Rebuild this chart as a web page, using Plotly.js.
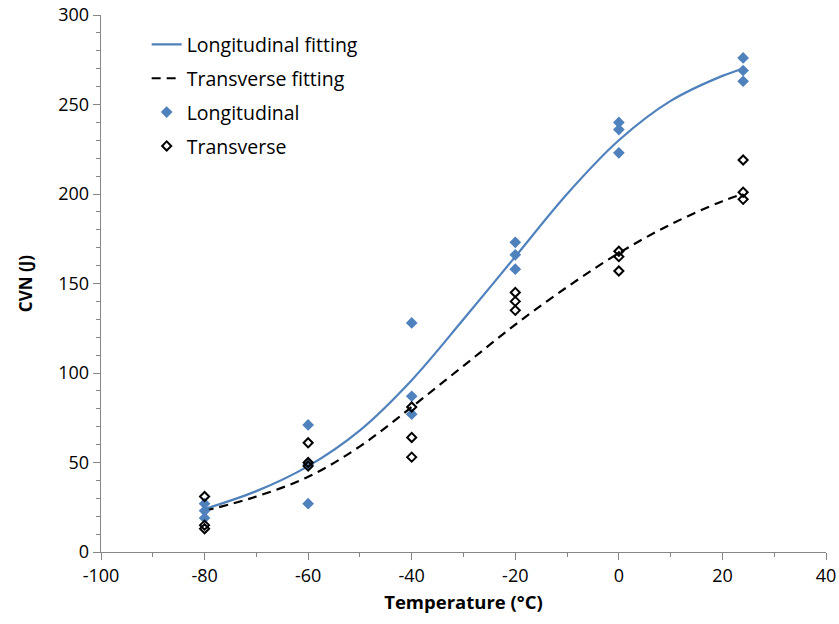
<!DOCTYPE html>
<html>
<head>
<meta charset="utf-8">
<script src="https://cdn.plot.ly/plotly-3.0.1.min.js"></script>
<style>html,body{margin:0;padding:0;background:#fff;}#chart{width:839px;height:624px;}</style>
</head>
<body>
<div id="chart"></div>
<script>
// Measured data
var longT = [-80,-80,-80,-60,-60,-60,-40,-40,-40,-20,-20,-20,0,0,0,24,24,24];
var longCVN = [27,23,19,71,49,27,128,87,77,173,166,158,240,236,223,276,269,263];
var transT = [-80,-80,-80,-60,-60,-60,-40,-40,-40,-20,-20,-20,0,0,0,24,24,24];
var transCVN = [31,15,13,61,50,48,81,64,53,145,140,135,168,165,157,219,201,197];
// Fitted curves
var fitT = [-80,-70,-60,-50,-40,-30,-20,-10,0,10,20,24];
var longFit = [24,34,48,68,96,130,165,200,230,252,266,270];
var transFit = [23,31,42,59,81,104,127,148,167,183,196,200];
// Tick labels
var xTickVals = [-100,-80,-60,-40,-20,0,20,40];
var xTickText = ['-100','-80','-60','-40','-20','0','20','40'];

var blue = '#4F81BD';
var axisGray = '#868686';
var font = 'Open Sans, sans-serif';
var traces = [
  {x: fitT, y: longFit, mode: 'lines', line: {shape: 'spline', smoothing: 1, color: blue, width: 2.2}, name: 'Longitudinal fitting', legendgroup: 'a'},
  {x: fitT, y: transFit, mode: 'lines', line: {shape: 'spline', smoothing: 1, color: '#000', width: 2.2, dash: '9px,6px'}, name: 'Transverse fitting', legendgroup: 'b'},
  {x: longT, y: longCVN, mode: 'markers', marker: {symbol: 'diamond', color: blue, size: 9}, name: 'Longitudinal', legendgroup: 'c'},
  {x: transT, y: transCVN, mode: 'markers', marker: {symbol: 'diamond-open', color: '#000', size: 7, line: {width: 2, color: '#000'}}, name: 'Transverse', legendgroup: 'd'}
];
var layout = {
  width: 839, height: 624,
  margin: {l: 101, r: 13, t: 15, b: 72},
  paper_bgcolor: '#fff', plot_bgcolor: '#fff',
  font: {family: font, size: 18, color: '#000'},
  showlegend: true,
  legend: {x: 0.063, y: 0.981, xanchor: 'left', yanchor: 'top', bgcolor: 'rgba(0,0,0,0)', font: {size: 19.5, color: '#000'}, tracegroupgap: 5.5},
  xaxis: {
    range: [-100, 40], tickvals: xTickVals, ticktext: xTickText, showgrid: false, zeroline: false,
    showline: true, linecolor: axisGray, linewidth: 1.3,
    ticks: 'outside', ticklen: 7, tickcolor: axisGray,
    minor: {dtick: 10, tick0: -100, ticks: 'outside', ticklen: 4, tickcolor: axisGray},
    tickfont: {size: 18},
    title: {text: '<b>Temperature (°C)</b>', font: {size: 18.5}, standoff: 10}
  },
  yaxis: {
    range: [0, 300], dtick: 50, showgrid: false, zeroline: false,
    showline: true, linecolor: axisGray, linewidth: 1.3,
    ticks: 'outside', ticklen: 7, tickcolor: axisGray,
    minor: {dtick: 10, ticks: 'outside', ticklen: 4, tickcolor: axisGray},
    tickfont: {size: 18},
    title: {text: '<b>CVN (J)</b>', font: {size: 17}, standoff: 21}
  }
};
Plotly.newPlot('chart', traces, layout, {displayModeBar: false, staticPlot: true});
</script>
</body>
</html>
